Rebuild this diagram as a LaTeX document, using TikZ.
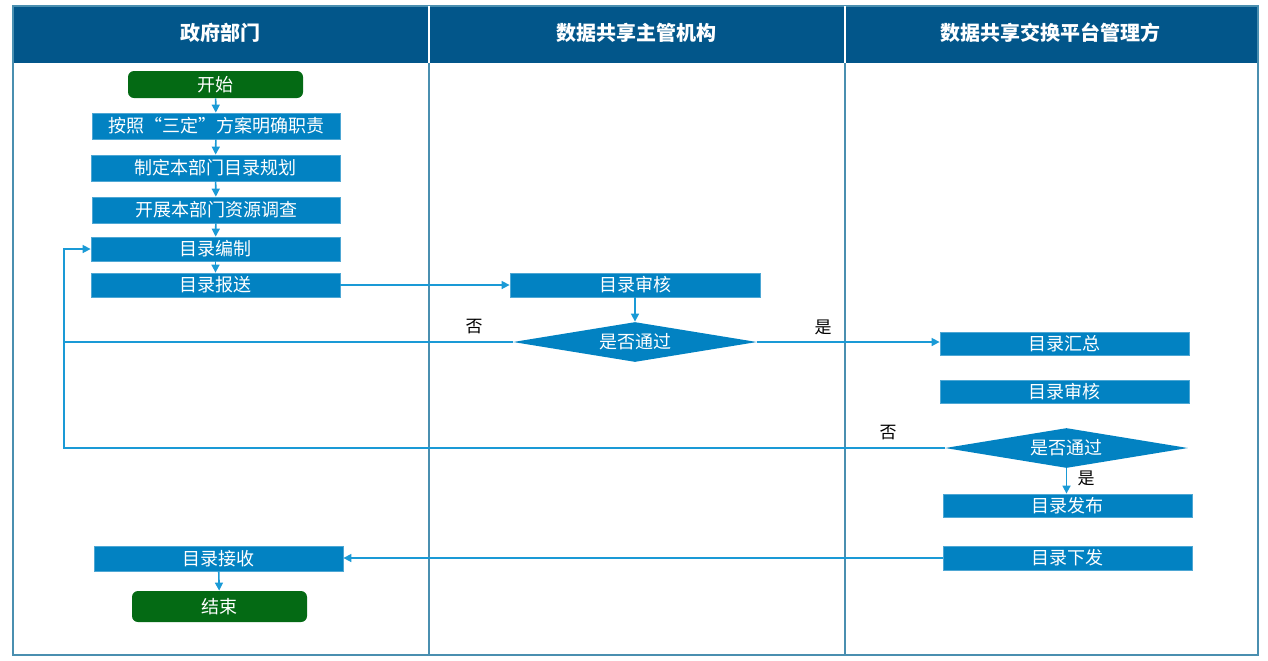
\documentclass[tikz,border=0pt]{standalone}
\usepackage{fontspec}
\setmainfont{Noto Sans CJK SC}
\usetikzlibrary{shapes.geometric,arrows.meta}
\definecolor{hdr}{HTML}{02568A}
\definecolor{box}{HTML}{0282C2}
\definecolor{lnk}{HTML}{1A9AD6}
\definecolor{frm}{HTML}{4A8FB0}
\definecolor{grn}{HTML}{046A14}
\tikzset{
 bx/.style={fill=box,draw=box!70!white,line width=0.4pt,text=white,font=\fontsize{9}{10}\selectfont,inner sep=0pt},
 gbx/.style={fill=grn,rounded corners=3pt,text=white,font=\fontsize{9}{10}\selectfont,inner sep=0pt},
 dm/.style={diamond,fill=box,text=white,font=\fontsize{9}{10}\selectfont,inner sep=0pt,aspect=6},
 ln/.style={draw=lnk,line width=0.8pt},
 ar/.style={ln,-{Triangle[length=4pt,width=4pt]}},
 lab/.style={font=\fontsize{8.5}{10}\selectfont,text=black},
 ht/.style={text=white,font=\fontsize{10}{12}\selectfont\bfseries}
}
\begin{document}
\begin{tikzpicture}[x=0.5pt,y=-0.5pt]
\useasboundingbox (0,0) rectangle (1268,660);
\fill[hdr] (13,6) rectangle (1258,63);
\draw[frm,line width=0.8pt] (13,6) rectangle (1258,655);
\draw[frm,line width=0.8pt] (429,63) -- (429,655) (845,63) -- (845,655);
\draw[white,line width=0.6pt] (429,6)--(429,63) (845,6)--(845,63);
\node[ht] (h1) at (220,33) {政府部门};
\node[ht] (h2) at (636,33) {数据共享主管机构};
\node[ht] (h3) at (1050,33) {数据共享交换平台管理方};
% left lane
\node[gbx,minimum width=175*0.5pt,minimum height=27*0.5pt] (s) at (215.5,84.5) {开始};
\node[bx,minimum width=248*0.5pt,minimum height=26*0.5pt] (b1) at (216,126) {按照“三定”方案明确职责};
\node[bx,minimum width=249*0.5pt,minimum height=26*0.5pt] (b2) at (215.5,168) {制定本部门目录规划};
\node[bx,minimum width=248*0.5pt,minimum height=26*0.5pt] (b3) at (216,210) {开展本部门资源调查};
\node[bx,minimum width=249*0.5pt,minimum height=24*0.5pt] (b4) at (215.5,249) {目录编制};
\node[bx,minimum width=249*0.5pt,minimum height=24*0.5pt] (b5) at (215.5,285) {目录报送};
\node[bx,minimum width=249*0.5pt,minimum height=25*0.5pt] (rc) at (218.5,558.5) {目录接收};
\node[gbx,minimum width=175*0.5pt,minimum height=31*0.5pt] (e) at (219.5,606.5) {结束};
% middle
\node[bx,minimum width=250*0.5pt,minimum height=24*0.5pt] (m1) at (635,285) {目录审核};
\node[dm,minimum width=244*0.5pt,minimum height=40*0.5pt] (d1) at (635,342) {是否通过};
% right
\node[bx,minimum width=249*0.5pt,minimum height=23*0.5pt] (r1) at (1064.5,343.5) {目录汇总};
\node[bx,minimum width=249*0.5pt,minimum height=23*0.5pt] (r2) at (1064.5,391.5) {目录审核};
\node[dm,minimum width=243*0.5pt,minimum height=40*0.5pt] (d2) at (1066.5,448) {是否通过};
\node[bx,minimum width=249*0.5pt,minimum height=23*0.5pt] (r3) at (1067.5,505.5) {目录发布};
\node[bx,minimum width=249*0.5pt,minimum height=24*0.5pt] (r4) at (1067.5,558) {目录下发};
\coordinate (c1) at (64,342);
\coordinate (c2) at (64,448);
\coordinate (c3) at (64,249);
% connectors
\draw[ar] (s) -- (b1);
\draw[ar] (b1) -- (b2);
\draw[ar] (b2) -- (b3);
\draw[ar] (b3) -- (b4);
\draw[ar] (b4) -- (b5);
\draw[ar] (b5) -- (m1);
\draw[ar] (m1) -- (d1);
\draw[ar] (d1) -- (r1.west|-d1);
\draw[ln] (d1) -- (c1);
\draw[ar] (d2) -- (c2) -- (c3) -- (b4);
\draw[ar] (d2.south) -- (r3.north-|d2.south);
\draw[ar] (r4.west) -- (rc.east|-r4.west);
\draw[ar] (rc) -- (e);
\node[lab] (n1) at (474,327) {否};
\node[lab] (y1) at (823,327) {是};
\node[lab] (n2) at (888,433) {否};
\node[lab] (y2) at (1086,478) {是};
\end{tikzpicture}
\end{document}
